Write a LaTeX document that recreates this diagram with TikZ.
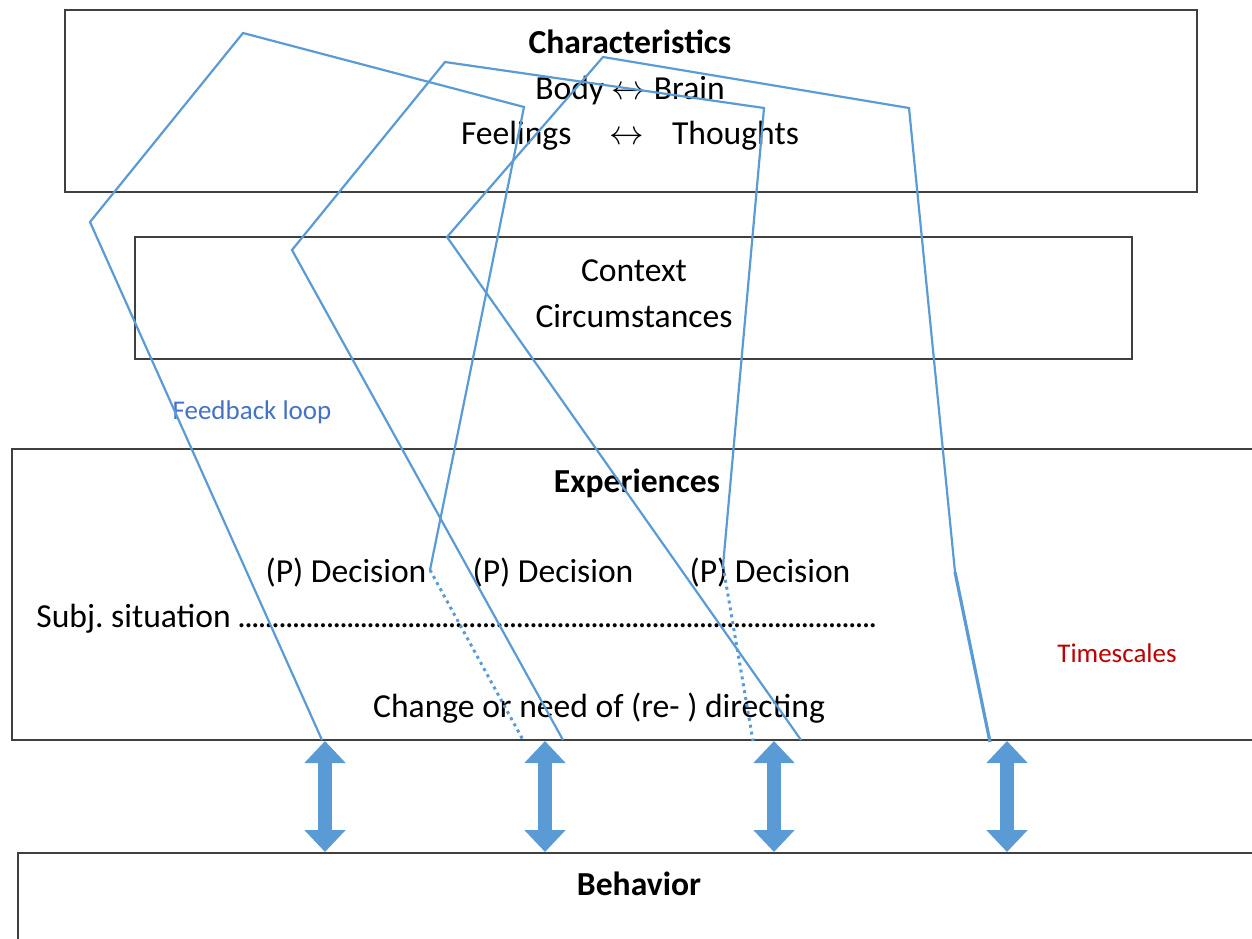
\documentclass[tikz,border=0pt]{standalone}
\usepackage{fontspec}
\setmainfont{Carlito}
\usetikzlibrary{arrows.meta,positioning,fit}

\definecolor{loopblue}{RGB}{91,155,213}
\definecolor{labelblue}{RGB}{68,114,196}
\definecolor{scalered}{RGB}{192,0,0}

\begin{document}
\frenchspacing
\begin{tikzpicture}[
  x=0.5pt, y=-0.5pt,
  box/.style={rectangle,draw=black!75,line width=0.9pt,inner sep=0pt},
  txt/.style={anchor=base,inner sep=0pt,font=\fontsize{16.8}{20}\selectfont},
  head/.style={anchor=base,inner sep=0pt,font=\fontsize{16.8}{20}\selectfont\bfseries},
  note/.style={anchor=base,inner sep=0pt,font=\fontsize{13.5}{16}\selectfont},
  fback/.style={draw=loopblue,line width=1.1pt},
  fbackdot/.style={draw=loopblue,line width=1.5pt,dash pattern=on 1.5pt off 2pt},
  twoway/.style={loopblue,line width=6.8pt,
                 {Triangle[width=20pt,length=11pt]}-{Triangle[width=20pt,length=11pt]}}
]
  \useasboundingbox (0,0) rectangle (1252,938);
  \clip (0,0) rectangle (1252,938);

  % the four layers
  \node[box,fit={(65,10) (1197,192)}] (chars) {};
  \node[box,fit={(135,237) (1132,359)}] (ctx) {};
  \node[box,fit={(12,449) (1270,740)}] (exps) {};
  \node[box,fit={(18,853) (1270,960)}] (behav) {};

  \node[head] (charT) at (630,53) {Characteristics};
  \node[txt] (bodybrain) at (630,99) {Body $\leftrightarrow$ Brain};
  \node[txt] (feelthink) at (630,144) {Feelings\hspace{19pt}$\leftrightarrow$\hspace{14pt}Thoughts};

  \node[txt] (ctxT) at (634,281) {Context};
  \node[txt] (circ) at (634,327) {Circumstances};

  \node[note,text=labelblue] (fbl) at (252,419) {Feedback loop};

  \node[head] (expT) at (637,492) {Experiences};
  \foreach \x [count=\i] in {346,553,770}
    \node[txt] (dec\i) at (\x,582) {(P) Decision};
  \node[txt,anchor=base west] (subj) at (36,627)
    {Subj. situation \hbox to 321pt{\leaders\hbox to 3.4pt{\hss.\hss}\hfill}};
  \node[note,text=scalered] (tsc) at (1117,662) {Timescales};
  \node[txt] (chg) at (599,717) {Change or need of (re- ) directing};

  \node[head] (behT) at (639,895) {Behavior};

  % corners of the feedback loops
  \coordinate (a0) at (322,740);
  \coordinate (a1) at (90,222);
  \coordinate (a2) at (243,33);
  \coordinate (a3) at (524,107);
  \coordinate (a4) at (430,570);
  \coordinate (a5) at (523,740);

  \coordinate (b0) at (563,740);
  \coordinate (b1) at (292,250);
  \coordinate (b2) at (445,62);
  \coordinate (b3) at (764,108);
  \coordinate (b4) at (723,566);
  \coordinate (b5) at (753,741);

  \coordinate (c0) at (801,740);
  \coordinate (c1) at (447,237);
  \coordinate (c2) at (603,57);
  \coordinate (c3) at (909,108);
  \coordinate (c4) at (955,572);
  \coordinate (c5) at (990,742);

  \draw[fback] (a0) -- (a1) -- (a2) -- (a3) -- (a4);
  \draw[fbackdot] (a4) -- (a5);
  \draw[fback] (b0) -- (b1) -- (b2) -- (b3) -- (b4);
  \draw[fbackdot] (b4) -- (b5);
  \draw[fback] (c0) -- (c1) -- (c2) -- (c3) -- (c4);
  \draw[fback,line width=1.6pt] (c4) -- (c5);

  % experiences <-> behavior
  \foreach \x [count=\i] in {325,545,774,1007} {
    \coordinate (up\i) at (\x,741);
    \coordinate (dn\i) at (\x,852);
    \draw[twoway] (up\i) -- (dn\i);
  }
\end{tikzpicture}
\end{document}
